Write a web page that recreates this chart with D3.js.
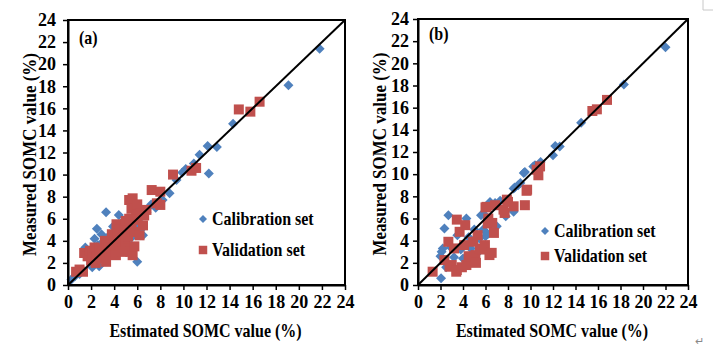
<!DOCTYPE html>
<html>
<head>
<meta charset="utf-8">
<script src="https://cdn.jsdelivr.net/npm/d3@7"></script>
<style>
  body { margin: 0; background: #fff; }
  text { font-family: "Liberation Serif", "Times New Roman", serif; font-weight: bold; fill: #000; }
</style>
</head>
<body>
<div id="chart"></div>
<script>
// axis ticks shared by both panels
const ticks = [0, 2, 4, 6, 8, 10, 12, 14, 16, 18, 20, 22, 24];
const xTitle = "Estimated SOMC value (%)";
const yTitle = "Measured SOMC value (%)";
const seriesNames = ["Calibration set", "Validation set"];

// panel (a): [estimated, measured]
const calibA = [
  [0.3, 0.5], [0.6, 0.8], [1.0, 1.0], [1.5, 3.4], [1.8, 3.0], [2.0, 2.5], [2.1, 1.6],
  [2.3, 4.2], [2.5, 5.1], [2.6, 3.6], [2.7, 1.7], [2.9, 4.6], [3.0, 3.9], [3.3, 6.6],
  [3.2, 2.2], [3.5, 4.4], [3.6, 2.8], [3.9, 5.3], [4.0, 4.1], [4.4, 6.35], [4.3, 3.1],
  [4.6, 5.6], [4.8, 4.7], [5.0, 3.8], [5.2, 5.7], [5.5, 4.3], [5.8, 5.4], [6.0, 2.1],
  [6.3, 5.0], [6.5, 4.5], [6.2, 6.0], [6.8, 6.6], [7.2, 7.3], [7.6, 7.0], [8.2, 7.7],
  [8.8, 8.3], [9.4, 9.5], [9.9, 10.2], [10.2, 10.5], [10.9, 11.0], [11.4, 11.8],
  [12.1, 12.6], [12.9, 12.5], [12.2, 10.1], [14.3, 14.6], [19.1, 18.1], [21.8, 21.4]
];
const validA = [
  [0.7, 1.2], [1.3, 1.2], [1.0, 1.4], [1.4, 2.9], [1.7, 2.6], [1.9, 3.1], [2.0, 2.2],
  [2.1, 2.9], [2.3, 3.4], [2.4, 2.0], [2.5, 2.6], [2.7, 3.3], [2.9, 2.9], [3.0, 2.4],
  [3.0, 3.0], [3.2, 4.0], [3.3, 2.1], [3.3, 3.6], [3.5, 3.4], [3.6, 2.9], [3.8, 3.3],
  [3.8, 4.6], [3.9, 3.0], [4.0, 3.9], [4.15, 2.7], [4.2, 5.5], [4.3, 4.7], [4.4, 4.0],
  [4.5, 3.6], [4.5, 5.0], [4.7, 4.2], [4.7, 3.0], [4.8, 4.5], [4.9, 5.1], [5.0, 3.9],
  [5.0, 5.8], [5.2, 3.3], [5.2, 4.4], [5.3, 6.0], [5.4, 3.0], [5.4, 5.5], [5.5, 5.0],
  [5.5, 6.9], [5.3, 7.7], [5.6, 7.85], [5.6, 2.7], [5.75, 3.5], [5.9, 6.6], [5.8, 4.8],
  [6.0, 5.9], [6.0, 7.3], [6.2, 4.5], [6.3, 6.5], [6.6, 6.3], [6.5, 5.4], [6.8, 6.8],
  [7.25, 8.6], [7.7, 7.4], [8.0, 8.45], [8.0, 7.25], [9.1, 10.0], [10.7, 10.35],
  [11.1, 10.6], [14.8, 15.9], [15.8, 15.7], [16.6, 16.6]
];

// panel (b)
const calibB = [
  [2.05, 0.6], [2.0, 2.6], [2.2, 3.3], [2.35, 5.1], [2.1, 3.0], [2.5, 1.6], [2.7, 6.3],
  [2.9, 3.4], [3.2, 2.5], [3.5, 4.5], [3.8, 3.2], [4.0, 2.4], [4.3, 6.0], [4.5, 4.3],
  [4.7, 3.3], [5.0, 5.0], [5.2, 2.8], [5.45, 4.2], [5.6, 6.3], [5.8, 5.0], [5.95, 6.3],
  [6.0, 4.4], [6.2, 4.6], [6.4, 7.5], [6.85, 7.4], [7.0, 5.3], [7.3, 7.6], [7.8, 6.2],
  [8.5, 6.6], [8.5, 8.7], [8.6, 8.8], [8.9, 9.0], [9.1, 9.2], [9.4, 10.1], [9.5, 10.2],
  [10.25, 10.7], [10.4, 10.8], [10.9, 11.1], [12.0, 11.7], [12.2, 12.55], [12.6, 12.5],
  [14.5, 14.65], [18.3, 18.1], [22.0, 21.45]
];
const validB = [
  [1.3, 1.2], [2.35, 2.25], [2.7, 3.9], [2.8, 1.65], [3.0, 1.8], [3.2, 3.3], [3.45, 5.9],
  [3.4, 1.2], [3.45, 1.35], [3.7, 4.8], [3.9, 1.6], [4.1, 3.6], [4.3, 1.8], [4.2, 5.4],
  [4.5, 2.6], [4.9, 3.9], [5.1, 2.7], [5.15, 2.0], [5.3, 4.5], [5.5, 3.3], [5.75, 3.2],
  [5.95, 3.6], [6.0, 7.0], [6.1, 7.05], [6.2, 5.55], [6.25, 6.0], [6.35, 2.7], [6.55, 2.9],
  [6.6, 5.6], [6.75, 4.7], [6.85, 7.2], [7.6, 6.8], [7.7, 6.5], [7.9, 7.7], [8.0, 7.5],
  [8.5, 7.1], [9.5, 7.2], [9.65, 8.5], [9.7, 8.6], [10.55, 10.4], [10.7, 9.9],
  [10.85, 10.7], [15.5, 15.7], [15.9, 15.85], [16.8, 16.7]
];

const blue = "#4f81bd";
const red = "#c0504d";

const svg = d3.select("#chart").append("svg")
  .attr("width", 713)
  .attr("height", 353);

const diamond = (r) => `M0,${-r}L${r},0L0,${r}L${-r},0Z`;
const square = d3.symbol(d3.symbolSquare, 100);

// text a bit taller than wide, as in the source image
function tallText(g, x, y, str, size, anchor, rot) {
  return g.append("text")
    .attr("transform", `translate(${x},${y})${rot ? " rotate(-90)" : ""} scale(1,1.12)`)
    .attr("text-anchor", anchor)
    .style("font-size", size + "px")
    .text(str);
}

function drawPanel(p) {
  const x = d3.scaleLinear().domain([0, 24]).range([p.left, p.right]);
  const y = d3.scaleLinear().domain([0, 24]).range([p.bottom, p.top]);
  const g = svg.append("g");

  // points: calibration first, validation on top
  g.selectAll(".cal").data(p.calib).enter()
    .append("path")
    .attr("d", diamond(5))
    .attr("fill", blue)
    .attr("transform", (d) => `translate(${x(d[0])},${y(d[1])})`);

  g.selectAll(".val").data(p.valid).enter()
    .append("path")
    .attr("d", square)
    .attr("fill", red)
    .attr("transform", (d) => `translate(${x(d[0])},${y(d[1])})`);

  // 1:1 line
  g.append("line")
    .attr("x1", x(0)).attr("y1", y(0))
    .attr("x2", x(24)).attr("y2", y(24))
    .attr("stroke", "#000")
    .attr("stroke-width", 2);

  // frame
  g.append("rect")
    .attr("x", p.left).attr("y", p.top)
    .attr("width", p.right - p.left).attr("height", p.bottom - p.top)
    .attr("fill", "none")
    .attr("stroke", "#000")
    .attr("stroke-width", 2);

  const xAxis = g.append("g")
    .attr("transform", `translate(0,${p.bottom})`)
    .call(d3.axisBottom(x).tickValues(ticks).tickSize(5).tickSizeOuter(0).tickPadding(5));
  const yAxis = g.append("g")
    .attr("transform", `translate(${p.left},0)`)
    .call(d3.axisLeft(y).tickValues(ticks).tickSize(5).tickSizeOuter(0).tickPadding(p.ypad));

  [xAxis, yAxis].forEach((a) => {
    a.select(".domain").attr("stroke", "#000").attr("stroke-width", 2);
    a.selectAll(".tick line").attr("stroke", "#000").attr("stroke-width", 1.5);
    a.selectAll(".tick text")
      .attr("fill", "#000")
      .style("font-size", "18px")
      .style("font-family", '"Liberation Serif", serif')
      .style("font-weight", "bold");
  });

  // titles
  tallText(g, (p.left + p.right) / 2 - 1, 337, xTitle, 16, "middle", false);
  tallText(g, p.ytx, (p.top + p.bottom) / 2 + 2, yTitle, 17, "middle", true);
  tallText(g, p.left + 11, p.top + p.tagDy, p.tag, 16, "start", false);

  // legend
  g.append("path")
    .attr("d", diamond(4))
    .attr("fill", blue)
    .attr("transform", `translate(${p.lx},${p.ly1})`);
  tallText(g, p.lx + 9, p.ly1 + 6, seriesNames[0], 16, "start", false);
  g.append("path")
    .attr("d", d3.symbol(d3.symbolSquare, 72))
    .attr("fill", red)
    .attr("transform", `translate(${p.lx},${p.ly2})`);
  tallText(g, p.lx + 9, p.ly2 + 6, seriesNames[1], 16, "start", false);
}

drawPanel({
  calib: calibA, valid: validA, tag: "(a)",
  left: 68, right: 345, top: 20, bottom: 285, ypad: 7, ytx: 36,
  tagDy: 24, lx: 203, ly1: 219, ly2: 250
});
drawPanel({
  calib: calibB, valid: validB, tag: "(b)",
  left: 418, right: 688, top: 19, bottom: 285, ypad: 4, ytx: 386,
  tagDy: 21, lx: 545, ly1: 231, ly2: 256
});

// page marks from the original document
svg.append("path")
  .attr("d", "M703,0V10H713")
  .attr("fill", "none")
  .attr("stroke", "#c8c8c8")
  .attr("stroke-width", 1);
svg.append("text")
  .attr("x", 695).attr("y", 345)
  .style("font-size", "11px")
  .style("font-weight", "normal")
  .style("fill", "#888")
  .text("\u21b5");
</script>
</body>
</html>
